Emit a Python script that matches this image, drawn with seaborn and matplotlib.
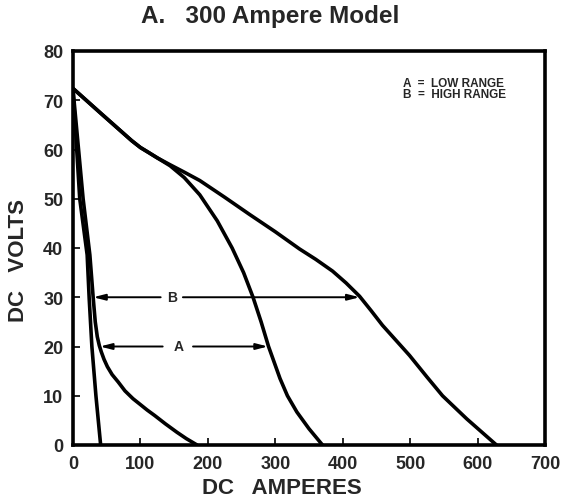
import matplotlib
matplotlib.use("Agg")
import matplotlib.pyplot as plt
import seaborn as sns
import pandas as pd

# ---- data ----
low_min_amps = [0, 10, 21, 24, 28, 34, 41]
low_min_volts = [72.2, 50, 38.6, 29.8, 20, 10, 0]

low_curve_amps = [0, 15, 25, 30, 33, 36, 39, 42, 46, 51, 58, 67, 77, 89, 100, 110, 121, 137, 154, 168, 184]
low_curve_volts = [72.2, 50, 38.6, 29.8, 25, 22, 20.2, 18.9, 17.4, 15.9, 14.3, 12.8, 11.0, 9.4, 8.2, 7.1, 6.0, 4.3, 2.6, 1.3, 0]

low_max_amps = [0, 40, 87, 100, 112, 125, 144, 165, 188, 214, 236, 253, 267, 279, 290, 307, 318, 332, 350, 370]
low_max_volts = [72.4, 67.5, 61.8, 60.4, 59.4, 58.3, 56.7, 54.3, 50.8, 45.5, 40, 35, 30, 25, 20, 13.5, 10, 6.7, 3.3, 0]

high_max_amps = [0, 40, 87, 100, 112, 125, 144, 165, 188, 225, 262, 300, 336, 360, 385, 405, 425, 442, 459, 480, 499, 525, 548, 584, 628]
high_max_volts = [72.4, 67.5, 61.8, 60.4, 59.4, 58.3, 56.9, 55.4, 53.7, 50.3, 46.8, 43.3, 39.8, 37.7, 35.3, 32.9, 30.2, 27.3, 24.3, 21.1, 18.2, 13.8, 10, 5.3, 0]

x_ticks = [0, 100, 200, 300, 400, 500, 600, 700]
y_ticks = [0, 10, 20, 30, 40, 50, 60, 70, 80]

title = "A.   300 Ampere Model"
legend_lines = ["A  =  LOW RANGE", "B  =  HIGH RANGE"]

# ---- figure ----
sns.set_style("white")
plt.rcParams["font.family"] = ["Liberation Sans", "DejaVu Sans"]

fig = plt.figure(figsize=(5.63, 5.02), dpi=100)
ax = fig.add_axes([73 / 563, 1 - 446 / 502, (545 - 73) / 563, (446 - 52) / 502])

curves = [
    (low_min_amps, low_min_volts),
    (low_curve_amps, low_curve_volts),
    (low_max_amps, low_max_volts),
    (high_max_amps, high_max_volts),
]
for a, v in curves:
    df = pd.DataFrame({"amps": a, "volts": v})
    sns.lineplot(data=df, x="amps", y="volts", sort=False, estimator=None,
                 color="black", linewidth=2.6, ax=ax,
                 solid_joinstyle="round")

ax.set_xlim(0, 700)
ax.set_ylim(0, 80)
ax.set_xticks(x_ticks)
ax.set_yticks(y_ticks)
ax.tick_params(direction="in", length=5, width=1.2, color="black",
               labelsize=13, pad=7, bottom=True, left=True, top=False, right=False)
for lab in ax.get_xticklabels() + ax.get_yticklabels():
    lab.set_fontweight("heavy")
for s in ax.spines.values():
    s.set_linewidth(2.6)
    s.set_color("black")

ax.set_xlabel("DC   AMPERES", fontsize=16, fontweight="bold")
ax.set_ylabel("DC   VOLTS", fontsize=16, fontweight="bold")
ax.xaxis.set_label_coords((282 - 73) / 472, -0.08)
ax.yaxis.set_label_coords((29 - 73) / 472, (446 - 260) / 394)
fig.suptitle(title, fontsize=17.5, fontweight="bold", x=0.48, y=0.99)

# ---- range arrows ----
arrow_kw = dict(arrowstyle="-|>,head_length=0.7,head_width=0.18", color="black",
                lw=1.4, shrinkA=0, shrinkB=0)
# B arrow at 30 V
ax.annotate("", xy=(30, 30), xytext=(130, 30), arrowprops=arrow_kw)
ax.annotate("", xy=(425, 30), xytext=(163, 30), arrowprops=arrow_kw)
ax.text(147, 30, "B", ha="center", va="center", fontsize=10, fontweight="bold")
# A arrow at 20 V
ax.annotate("", xy=(40, 20), xytext=(133, 20), arrowprops=arrow_kw)
ax.annotate("", xy=(289, 20), xytext=(178, 20), arrowprops=arrow_kw)
ax.text(156, 20, "A", ha="center", va="center", fontsize=10, fontweight="bold")

# ---- legend text ----
ax.text(489, 73.6, legend_lines[0], fontsize=8.5, fontweight="bold", va="center", ha="left")
ax.text(489, 71.2, legend_lines[1], fontsize=8.5, fontweight="bold", va="center", ha="left")

fig.savefig("out.png", dpi=100)
